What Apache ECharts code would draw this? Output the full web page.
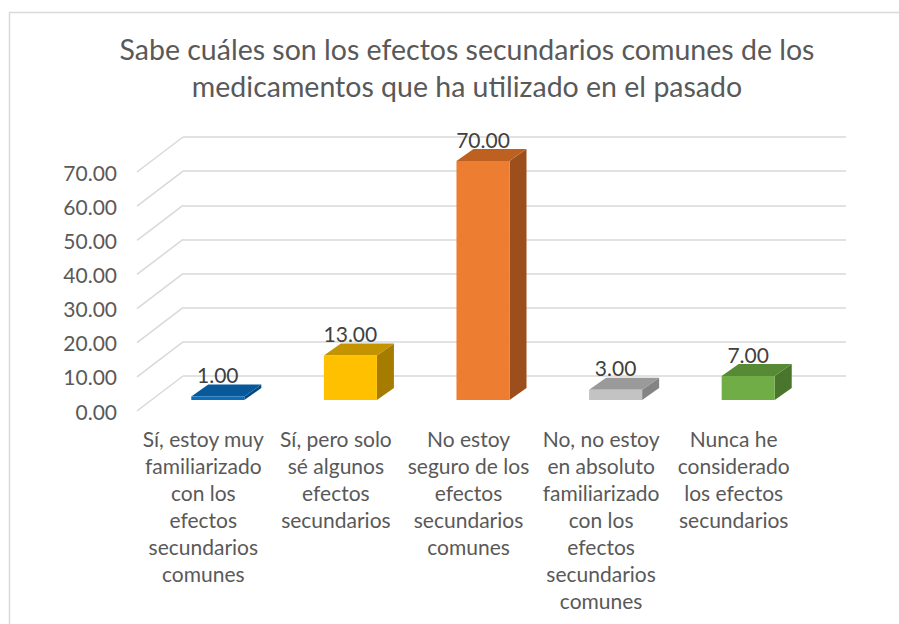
<!DOCTYPE html>
<html><head><meta charset="utf-8">
<script src="https://cdn.jsdelivr.net/npm/echarts@6/dist/echarts.min.js"></script>
<style>html,body{margin:0;padding:0;background:#fff}#c{width:899px;height:624px}</style>
</head><body><div id="c"></div>
<script>
// ---- data ----
const titleText = 'Sabe cuáles son los efectos secundarios comunes de los\nmedicamentos que ha utilizado en el pasado';
const categories = [
  'Sí, estoy muy\nfamiliarizado\ncon los\nefectos\nsecundarios\ncomunes',
  'Sí, pero solo\nsé algunos\nefectos\nsecundarios',
  'No estoy\nseguro de los\nefectos\nsecundarios\ncomunes',
  'No, no estoy\nen absoluto\nfamiliarizado\ncon los\nefectos\nsecundarios\ncomunes',
  'Nunca he\nconsiderado\nlos efectos\nsecundarios'
];
const values = [1, 13, 70, 3, 7];
const yTicks = [0, 10, 20, 30, 40, 50, 60, 70];

// ---- styles ----
const palette = [
  {front: '#0A6EBD', top: '#07599A', side: '#054A82'},
  {front: '#FFC000', top: '#C49300', side: '#A67C00'},
  {front: '#ED7D31', top: '#BD6020', side: '#9C4F1C'},
  {front: '#C3C3C3', top: '#9A9A9A', side: '#848484'},
  {front: '#70AD47', top: '#568A35', side: '#4A752D'}
];
const FONT = 'Lato, "Liberation Sans", sans-serif';
const WALL_DX = 46, WALL_DY = 35;      // depth of the 3D box
const BAR_DX = 17, BAR_DY = 12;        // depth of each bar
const front = {left: 137, right: 99, top: 172, bottom: 213};
const shift = (g, dx, dy) => ({left: g.left + dx, right: g.right - dx, top: g.top - dy, bottom: g.bottom + dy});
const back = shift(front, WALL_DX, WALL_DY);
const barPlane = shift(front, 14.5, 11);

const chart = echarts.init(document.getElementById('c'), null, {renderer: 'svg'});
chart.setOption({
  animation: false,
  backgroundColor: '#fff',
  title: {
    text: titleText, left: 462, top: 25, textAlign: 'center',
    textStyle: {fontFamily: FONT, fontSize: 28.5, fontWeight: 'normal', color: '#595959', lineHeight: 37}
  },
  graphic: [{
    type: 'rect', left: 7, top: 10, shape: {width: 1000, height: 1000},
    style: {fill: 'none', stroke: '#d9d9d9', lineWidth: 1.5}, silent: true, z: -1
  }],
  grid: [
    Object.assign({}, front),
    Object.assign({}, back),
    Object.assign({}, barPlane)
  ],
  xAxis: [
    {gridIndex: 0, type: 'category', data: categories, axisLine: {show: false}, axisTick: {show: false},
     axisLabel: {interval: 0, margin: 14, color: '#595959', fontFamily: FONT, fontSize: 21, lineHeight: 27, align: 'center'}},
    {gridIndex: 1, type: 'category', data: categories, show: false},
    {gridIndex: 2, type: 'category', data: categories, show: false}
  ],
  yAxis: [
    {gridIndex: 0, type: 'value', min: 0, max: 70, interval: 10, splitLine: {show: false},
     axisLine: {show: false}, axisTick: {show: false},
     axisLabel: {margin: 20, color: '#595959', fontFamily: FONT, fontSize: 21, formatter: v => v.toFixed(2)}},
    {gridIndex: 1, type: 'value', min: 0, max: 70, interval: 10, axisLabel: {show: false},
     axisLine: {show: false}, axisTick: {show: false},
     splitLine: {show: true, lineStyle: {color: '#d9d9d9', width: 1.5}}},
    {gridIndex: 2, type: 'value', min: 0, max: 70, interval: 10, show: false, splitLine: {show: false}}
  ],
  series: [
    {
      type: 'custom', xAxisIndex: 0, yAxisIndex: 0, silent: true,
      data: yTicks.map(v => [0, v]),
      renderItem: (params, api) => {
        const y = api.coord([0, api.value(1)])[1];
        const x = params.coordSys.x;
        return {type: 'line', shape: {x1: x, y1: y, x2: x + WALL_DX, y2: y - WALL_DY},
                style: {stroke: '#d9d9d9', lineWidth: 1.5}};
      }
    },
    {
      type: 'custom', xAxisIndex: 2, yAxisIndex: 2, silent: true, z: 5,
      data: values.map((v, i) => [i, v]),
      renderItem: (params, api) => {
        const i = api.value(0), v = api.value(1);
        const p0 = api.coord([i, 0]);
        const p1 = api.coord([i, v]);
        const bw = api.size([1, 0])[0] * 0.4;
        const x0 = p0[0] - bw / 2, x1 = p0[0] + bw / 2, yb = p0[1], yt = p1[1];
        const c = palette[i % palette.length];
        return {type: 'group', children: [
          {type: 'polygon', shape: {points: [[x1, yt], [x1 + BAR_DX, yt - BAR_DY], [x1 + BAR_DX, yb - BAR_DY], [x1, yb]]},
           style: {fill: c.side}},
          {type: 'polygon', shape: {points: [[x0, yt], [x1, yt], [x1 + BAR_DX, yt - BAR_DY], [x0 + BAR_DX, yt - BAR_DY]]},
           style: {fill: c.top}},
          {type: 'rect', shape: {x: x0, y: yt, width: bw, height: yb - yt}, style: {fill: c.front}},
          {type: 'text', style: {text: v.toFixed(2), x: p0[0], y: yt - 22, align: 'center', verticalAlign: 'middle',
            fill: '#404040', font: '21px ' + FONT}}
        ]};
      }
    }
  ]
});
</script>
</body></html>
